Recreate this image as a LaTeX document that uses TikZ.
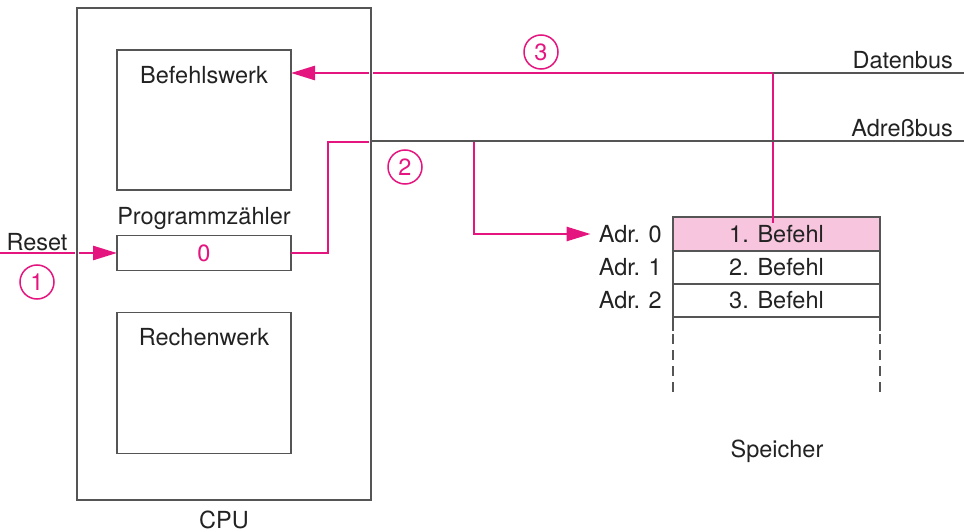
\documentclass[tikz,border=0pt]{standalone}
\usepackage{fontspec}
\setmainfont{TeX Gyre Heros}
\usetikzlibrary{arrows.meta}
\definecolor{mag}{HTML}{E4157F}
\definecolor{rose}{HTML}{F7C5DE}
\definecolor{ink}{HTML}{222222}
\definecolor{rule}{HTML}{555555}
\tikzset{
  frame/.style={draw=rule, line width=1.6pt, inner sep=0pt, outer sep=0pt},
  cell/.style={draw=rule, line width=1.6pt, inner sep=0pt, outer sep=0pt, minimum width=207pt, minimum height=33pt, text=ink},
  lbl/.style={text=ink, inner sep=0pt},
  bus/.style={draw=rule, line width=1.6pt},
  flow/.style={draw=mag, line width=2.6pt},
  tip/.style={-{Triangle[length=24pt,width=14pt]}},
  stepno/.style={circle, draw=mag, line width=1.5pt, minimum size=34pt, inner sep=0pt, text=mag},
}
\begin{document}
\begin{tikzpicture}[x=1pt, y=-1pt, font=\fontsize{23.5}{27}\selectfont]
\useasboundingbox (0,0) rectangle (964,532);

% CPU and its units
\node[frame, minimum width=294pt, minimum height=492pt] (cpu) at (224,254) {};
\node[lbl] (cpulbl) at (224,520) {CPU};
\node[frame, minimum width=174pt, minimum height=140pt] (bw) at (204,120) {};
\node[lbl] (bwlbl) at (204,75) {Befehlswerk};
\node[lbl] (pclbl) at (204,218) {Programmzähler};
\node[frame, minimum width=174pt, minimum height=35pt, text=mag] (pc) at (204,253) {0};
\node[frame, minimum width=174pt, minimum height=141pt] (rw) at (204,383) {};
\node[lbl] (rwlbl) at (204,337) {Rechenwerk};

% memory
\node[cell, fill=rose, minimum height=34pt] (m1) at (776.5,234) {1. Befehl};
\node[cell, anchor=north] (m2) at (m1.south) {2. Befehl};
\node[cell, anchor=north] (m3) at (m2.south) {3. Befehl};
\node[lbl, anchor=east] (a0) at (662,234) {Adr. 0};
\node[lbl, anchor=east] (a1) at (662,267) {Adr. 1};
\node[lbl, anchor=east] (a2) at (662,300) {Adr. 2};
\node[lbl] (mem) at (777,451) {Speicher};
\coordinate (lsA) at ([yshift=-14pt]m3.south west);
\coordinate (lsB) at ([yshift=-77pt]m3.south west);
\coordinate (rsA) at ([yshift=-14pt]m3.south east);
\coordinate (rsB) at ([yshift=-77pt]m3.south east);
\draw[bus] (m3.south west) -- (lsA);
\draw[bus] (m3.south east) -- (rsA);
\draw[bus, dash pattern=on 10pt off 6pt, dash phase=13pt] (lsA) -- (lsB);
\draw[bus, dash pattern=on 10pt off 6pt, dash phase=13pt] (rsA) -- (rsB);

% buses
\coordinate (dbL) at (773,73);
\coordinate (dbR) at (964,73);
\coordinate (abL) at (cpu.north east |- 0,141);
\coordinate (abR) at (964,141);
\node[lbl, anchor=south east] (dblbl) at (953,69) {Datenbus};
\node[lbl, anchor=south east] (ablbl) at (953,137) {Adreßbus};

% flow of the first instruction fetch
\coordinate (rs) at (0,253);
\draw[flow, tip] (rs) -- (pc.west);
\draw[flow] (pc.east) -- ++(37,0) |- ([yshift=-1pt]abL);
\coordinate (tap) at (474,142);
\draw[flow, tip] (tap) |- ([xshift=-8pt]a0.west);
\coordinate (t3) at (773,223);
\draw[flow, tip] (t3) |- (bw.north east |- dbL);

% CPU border drawn over the flow lines, leaving a thin white gap
\draw[rule, line width=1.6pt, preaction={draw=white, line width=4.5pt}]
  (cpu.north west) rectangle (cpu.south east);
\draw[bus] (abL) -- (abR);
\draw[bus] (dbL) -- (dbR);

\node[lbl] (rslbl) at (37,242) {Reset};
\node[stepno] (s1) at (37,282) {1};
\node[stepno] (s2) at (405,167) {2};
\node[stepno] (s3) at (541,52) {3};
\end{tikzpicture}
\end{document}
